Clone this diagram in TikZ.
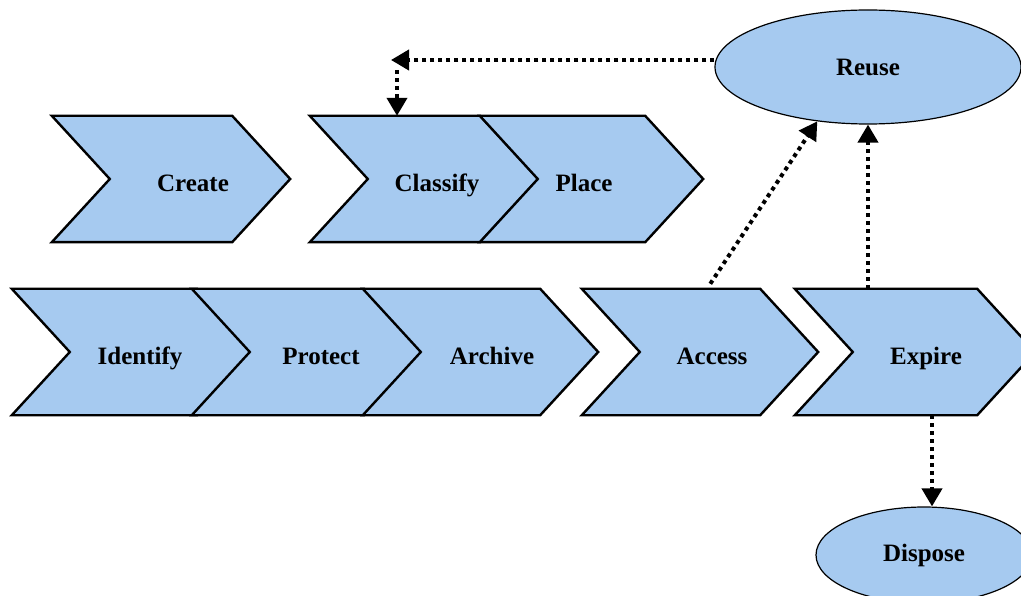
\documentclass[tikz,border=0pt]{standalone}
\usepackage{fontspec}
\setmainfont{Liberation Serif}
\usetikzlibrary{shapes.geometric,arrows.meta,calc,positioning}

\definecolor{stageblue}{RGB}{166,202,240}

\begin{document}
\begin{tikzpicture}[x=1pt,y=-1pt,
	stage/.style={minimum width=#1, minimum height=126pt, inner sep=0pt},
	chev/.style={fill=stageblue, draw=black, line width=2.4pt, line join=miter},
	txt/.style={font=\fontsize{25}{30}\selectfont\bfseries, anchor=base},
	pool/.style={ellipse, fill=stageblue, draw=black, line width=1.2pt, inner sep=0pt,
		font=\fontsize{25}{30}\selectfont\bfseries},
	flow/.style={line width=4pt, dash pattern=on 4pt off 4pt,
		-{Triangle[length=18pt,width=20pt]}}
]

	\def\tipd{58}
	
	\useasboundingbox (0,0) rectangle (1021,596);
	\clip (0,0) rectangle (1021,596);
	
	% stages: name / left x / width / row y / text x / text
	\foreach \name/\xl/\w/\yc/\tx/\lbl in {
		identify/12/243/352/140/Identify,
		protect/192/230/352/321/Protect,
		archive/363/235/352/492/Archive,
		access/582/236/352/712/Access,
		expire/795/240/352/926/Expire,
		create/52/238/179/193/Create,
		classify/310/228/179/437/Classify,
		place/480/223/179/584/Place}{
		\node[stage=\w pt] (\name) at ({\xl+\w/2}, \yc) {};
		\draw[chev]
			(\name.north west) -- ([xshift=-\tipd pt]\name.north east)
			-- (\name.east) -- ([xshift=-\tipd pt]\name.south east)
			-- (\name.south west) -- ([xshift=\tipd pt]\name.west) -- cycle;
		\node[txt] (\name-txt) at (\tx, {\yc+12.5}) {\lbl};
	}
	
	% pools
	\node[pool, minimum width=306pt, minimum height=114pt] (reuse) at (868,67) {Reuse};
	\node[pool, minimum width=216pt, minimum height=96pt] (dispose) at (924,555) {Dispose};
	
	% Reuse back to Classify
	\coordinate (bend) at (397,60);
	\draw[flow] (reuse.west |- bend) -- ([xshift=-6pt]bend);
	\draw[flow] ([yshift=-10pt]bend) -- (bend |- classify.north);
	
	% Access to Reuse
	\draw[flow, shorten <=6pt] ([xshift=7pt]access.north) -- (reuse.227);
	
	% Expire to Reuse, Expire to Dispose
	\draw[flow] (expire.north -| reuse.south) -- (reuse.south);
	\draw[flow] ([xshift=17pt]expire.south) -- ([xshift=17pt]expire.south |- dispose.north);

\end{tikzpicture}
\end{document}
